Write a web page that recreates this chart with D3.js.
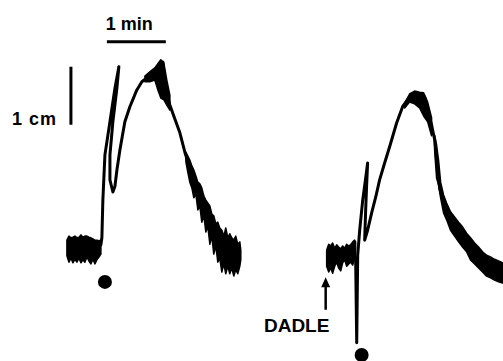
<!DOCTYPE html>
<html>
<head>
<meta charset="utf-8">
<script src="https://cdn.jsdelivr.net/npm/d3@7"></script>
<style>
  body { margin: 0; background: #fff; }
  svg { display: block; }
  text { font-family: "Liberation Sans", Arial, Helvetica, sans-serif; font-weight: bold; fill: #000; }
</style>
</head>
<body>
<div id="chart"></div>
<script>
// time in seconds, deflection in cm (0 = resting level of first trace)
// noisy stretches are kept as [t, top, bottom] envelopes, smooth ones as [t, v]
var leftBaseline = [
  [68.1, 0.17, -0.10], [70.2, 0.24, -0.21], [72.2, 0.21, -0.14], [74.2, 0.22, -0.22],
  [76.3, 0.24, -0.16], [78.3, 0.21, -0.21], [80.3, 0.22, -0.14], [82.4, 0.26, -0.22],
  [84.4, 0.22, -0.17], [86.4, 0.24, -0.21], [88.5, 0.24, -0.12], [90.5, 0.22, -0.19],
  [92.5, 0.21, -0.24], [94.6, 0.19, -0.16], [96.6, 0.17, -0.24], [98.6, 0.17, -0.17],
  [100.7, 0.16, -0.12], [102.7, 0.17, -0.07]
];
var leftTrace = [
  [102.7, 0.09], [103.7, 0.21], [104.7, 0.86], [106.8, 1.64], [111.9, 2.21], [117.0, 2.79], [121.0, 3.16],
  [119.0, 2.79], [114.9, 2.21], [111.9, 1.64], [111.9, 1.21], [114.9, 1.00],
  [117.0, 1.10], [119.0, 1.38], [122.0, 1.72], [127.1, 2.21], [132.2, 2.47], [139.3, 2.76],
  [144.4, 2.90], [150.5, 2.98], [156.6, 3.07], [162.7, 3.16], [165.8, 3.24],
  [168.8, 2.76], [172.9, 2.50], [176.9, 2.31], [183.1, 2.02], [188.1, 1.69], [193.2, 1.41], [196.3, 1.24]
];
var leftPeak = [
  [147.5, 3.00, 2.90], [152.5, 3.07, 2.90], [157.6, 3.14, 2.93], [160.7, 3.21, 2.76],
  [163.7, 3.28, 2.62], [166.8, 3.22, 2.59], [169.8, 2.93, 2.50], [172.9, 2.67, 2.41]
];
var leftTail = [
  [189.2, 1.69, 1.52], [191.2, 1.62, 1.34], [193.2, 1.55, 1.17], [195.3, 1.45, 1.07],
  [197.3, 1.38, 0.90], [199.3, 1.28, 0.97], [201.4, 1.17, 0.69], [203.4, 1.14, 0.76],
  [205.4, 1.07, 0.48], [207.5, 0.93, 0.59], [209.5, 0.86, 0.31], [211.5, 0.81, 0.41],
  [213.6, 0.76, 0.10], [215.6, 0.62, 0.24], [217.6, 0.59, -0.07], [219.7, 0.45, 0.07],
  [221.7, 0.48, -0.21], [223.7, 0.38, -0.14], [225.8, 0.34, -0.38], [227.8, 0.24, -0.24],
  [229.8, 0.38, -0.41], [231.9, 0.21, -0.28], [233.9, 0.28, -0.41], [235.9, 0.21, -0.31],
  [238.0, 0.17, -0.45], [240.0, 0.24, -0.34], [242.0, 0.10, -0.41], [244.1, 0.14, -0.28],
  [245.1, 0.00, -0.17]
];

var rightBaseline = [
  [332.5, 0.00, -0.28], [334.6, 0.10, -0.38], [336.6, 0.07, -0.31], [338.6, 0.12, -0.40],
  [340.7, 0.03, -0.28], [342.7, 0.09, -0.21], [344.7, 0.05, -0.31], [346.8, 0.02, -0.36],
  [348.8, 0.07, -0.22], [350.8, 0.03, -0.17], [352.9, 0.10, -0.28], [354.9, 0.07, -0.24],
  [356.9, 0.09, -0.21], [359.0, 0.14, -0.26], [361.0, 0.17, -0.14], [362.0, 0.14, -0.14]
];
var rightTrace = [
  [362.0, -0.14], [363.1, -1.60], [364.1, -0.09], [366.1, 0.34], [369.2, 0.86], [372.2, 1.24], [374.2, 1.50],
  [373.2, 1.12], [372.2, 0.69], [371.2, 0.17],
  [374.2, 0.34], [378.3, 0.64], [382.4, 0.91], [386.4, 1.21], [391.5, 1.50], [396.6, 1.78],
  [403.7, 2.19], [409.8, 2.47], [416.9, 2.64], [422.0, 2.69], [427.1, 2.69], [432.2, 2.64],
  [435.3, 2.41], [439.3, 2.16], [442.4, 1.90], [444.4, 1.55], [447.5, 1.07], [452.5, 0.74]
];
var rightPeak = [
  [411.9, 2.53, 2.45], [416.9, 2.69, 2.55], [422.0, 2.74, 2.52], [427.1, 2.72, 2.45],
  [431.2, 2.71, 2.31], [435.3, 2.55, 2.21], [439.3, 2.28, 1.97]
];
var rightTail = [
  [442.4, 1.98, 1.72], [444.4, 1.81, 1.24], [446.4, 1.55, 1.12], [448.5, 1.17, 0.90],
  [451.5, 0.95, 0.64], [454.6, 0.81, 0.52], [458.6, 0.66, 0.34], [462.7, 0.57, 0.24],
  [466.8, 0.48, 0.14], [470.8, 0.40, 0.05], [474.9, 0.29, -0.03], [478.9, 0.21, -0.17],
  [483.1, 0.12, -0.24], [487.1, 0.05, -0.31], [491.2, -0.03, -0.38], [495.3, -0.09, -0.45],
  [499.3, -0.12, -0.48], [503.4, -0.16, -0.52], [507.5, -0.19, -0.55], [511.5, -0.22, -0.57]
];

var stimulusDots = [[106.8, -0.55], [368.1, -1.81]];
var drugArrow = { t: 331.5, from: -1.03, to: -0.47, label: "DADLE" };
var timeBar = { t0: 108.8, t1: 168.8, v: 3.59, label: "1 min" };
var ampBar = { t: 72.2, v0: 2.16, v1: 3.16, label: "1 cm" };

var width = 503, height = 361;

var x = d3.scaleLinear().domain([0, 512]).range([0, width]);
var y = d3.scaleLinear().domain([0, 1]).range([250, 192]);

var svg = d3.select("#chart").append("svg")
  .attr("width", width)
  .attr("height", height);

svg.append("rect").attr("width", width).attr("height", height).attr("fill", "#fff");

var line = d3.line()
  .x(function (d) { return x(d[0]); })
  .y(function (d) { return y(d[1]); });

var band = d3.area()
  .x(function (d) { return x(d[0]); })
  .y0(function (d) { return y(d[2]); })
  .y1(function (d) { return y(d[1]); });

var bands = [leftBaseline, leftPeak, leftTail, rightBaseline, rightPeak, rightTail];
svg.selectAll(".band")
  .data(bands)
  .enter().append("path")
  .attr("class", "band")
  .attr("d", band)
  .attr("fill", "#000")
  .attr("stroke", "#000")
  .attr("stroke-width", 1.5)
  .attr("stroke-linejoin", "round");

svg.selectAll(".trace")
  .data([leftTrace, rightTrace])
  .enter().append("path")
  .attr("class", "trace")
  .attr("d", line)
  .attr("fill", "none")
  .attr("stroke", "#000")
  .attr("stroke-width", 3)
  .attr("stroke-linejoin", "round")
  .attr("stroke-linecap", "round");

svg.selectAll(".dot")
  .data(stimulusDots)
  .enter().append("circle")
  .attr("class", "dot")
  .attr("cx", function (d) { return x(d[0]); })
  .attr("cy", function (d) { return y(d[1]); })
  .attr("r", 7)
  .attr("fill", "#000");

// scale bars
svg.append("line")
  .attr("x1", x(timeBar.t0)).attr("x2", x(timeBar.t1))
  .attr("y1", y(timeBar.v)).attr("y2", y(timeBar.v))
  .attr("stroke", "#000").attr("stroke-width", 3);
svg.append("text")
  .attr("x", x((timeBar.t0 + timeBar.t1) / 2) - 7)
  .attr("y", y(timeBar.v) - 12)
  .attr("text-anchor", "middle")
  .style("font-size", "18px")
  .text(timeBar.label);

svg.append("line")
  .attr("x1", x(ampBar.t)).attr("x2", x(ampBar.t))
  .attr("y1", y(ampBar.v0)).attr("y2", y(ampBar.v1))
  .attr("stroke", "#000").attr("stroke-width", 3);
svg.append("text")
  .attr("x", x(ampBar.t) - 14)
  .attr("y", y(ampBar.v0))
  .attr("text-anchor", "end")
  .style("font-size", "18px")
  .style("letter-spacing", "1px")
  .text(ampBar.label);

// drug application arrow
var ax = x(drugArrow.t), ayTip = y(drugArrow.to), ayBase = y(drugArrow.from);
svg.append("line")
  .attr("x1", ax).attr("x2", ax)
  .attr("y1", ayBase).attr("y2", ayTip + 6)
  .attr("stroke", "#000").attr("stroke-width", 2.5);
svg.append("path")
  .attr("d", "M" + ax + "," + ayTip + "L" + (ax - 4.5) + "," + (ayTip + 10) + "L" + (ax + 4.5) + "," + (ayTip + 10) + "Z")
  .attr("fill", "#000");
svg.append("text")
  .attr("x", ax - 29)
  .attr("y", ayBase + 22)
  .attr("text-anchor", "middle")
  .style("font-size", "19px")
  .text(drugArrow.label);
</script>
</body>
</html>
